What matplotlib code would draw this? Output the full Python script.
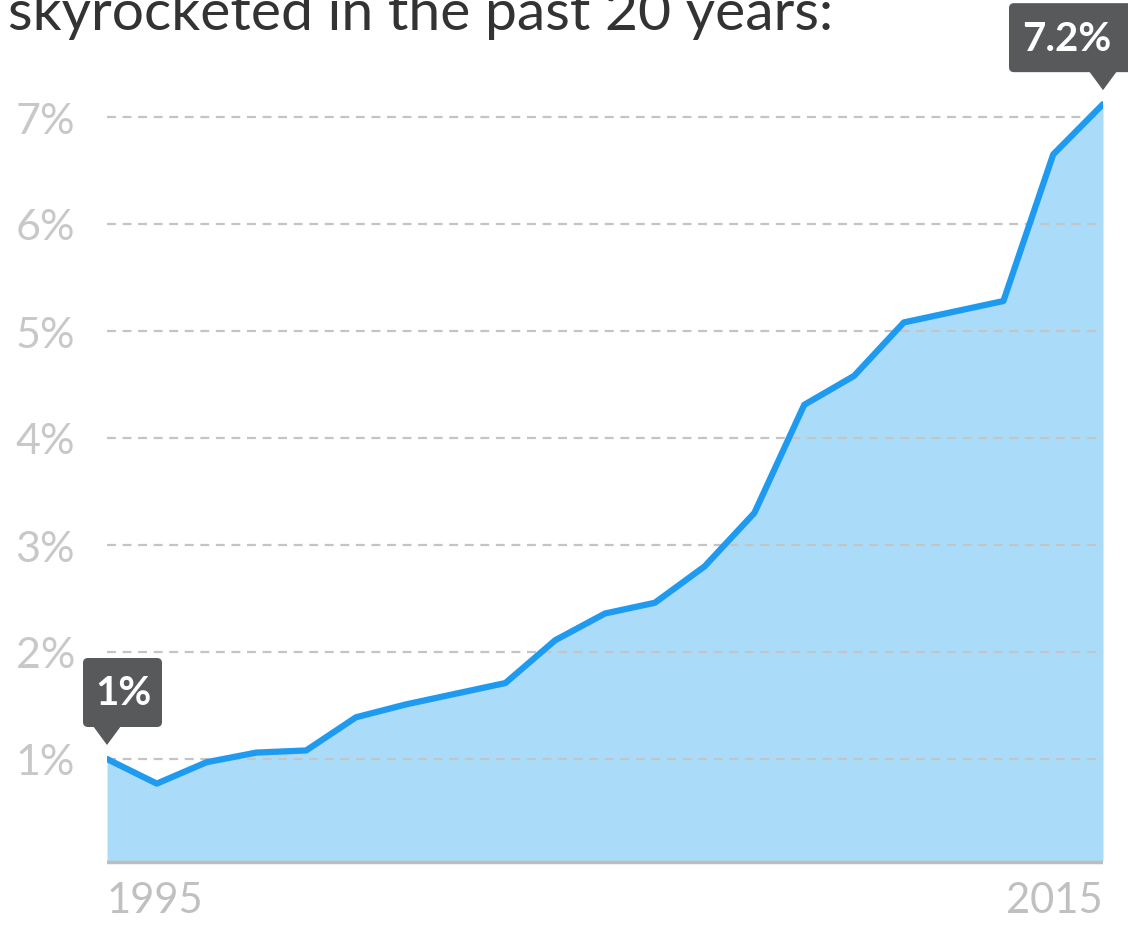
import matplotlib
matplotlib.use("Agg")
import matplotlib.pyplot as plt
import matplotlib.transforms as mtransforms
from matplotlib.patches import FancyBboxPatch, Polygon

plt.rcParams['font.family'] = ['Lato', 'DejaVu Sans']

# data
years = list(range(1995, 2016))
share = [1.00, 0.77, 0.97, 1.06, 1.08, 1.39, 1.51, 1.61, 1.71, 2.11, 2.36,
         2.46, 2.80, 3.30, 4.31, 4.58, 5.08, 5.18, 5.28, 6.65, 7.12]
yticks = [1, 2, 3, 4, 5, 6, 7]
ytick_labels = ["%d%%" % v for v in yticks]
title = "skyrocketed in the past 20 years:"
callouts = [(0, "1%"), (20, "7.2%")]

W, H = 1128, 929
fig = plt.figure(figsize=(W / 100, H / 100), dpi=100)
ax = fig.add_axes([107 / W, 62 / H, 996 / W, 856 / H])
ax.set_xlim(1995, 2015)
ax.set_ylim(0, 8)

ax.fill_between(years, share, 0.05, color='#aadcf9', lw=0, zorder=1)
ax.plot(years, share, color='#1e9bf0', lw=4.5, solid_capstyle='round', zorder=3)
ax.axhline(0.04, color='#bdbdbd', lw=2.5, zorder=2)

for v in yticks:
    ax.axhline(v, color='#c4c4c4', lw=1.6, ls=(0, (4, 3)), zorder=2)

ax.set_yticks(yticks)
ax.set_yticklabels(ytick_labels)
ax.tick_params(axis='y', length=0, pad=23, labelsize=31, labelcolor='#c8c8c8')
ax.set_xticks([])
for s in ax.spines.values():
    s.set_visible(False)

ax.text(1995, -0.14, "1995", ha='left', va='top', fontsize=30, color='#c0c0c0')
ax.text(2015, -0.14, "2015", ha='right', va='top', fontsize=30, color='#c0c0c0')

fig.text(8 / W, (H - 30) / H, title, ha='left', va='baseline', fontsize=41,
         color='#333333')

# callout boxes with pointer, sized in pixels around the point
boxes = {0: (-24, 55, 16), 20: (-94, 40, -36)}
for i, txt in callouts:
    x0, x1, tx = boxes[i]
    tr = fig.dpi_scale_trans + mtransforms.ScaledTranslation(years[i], share[i], ax.transData)
    box = FancyBboxPatch((x0 / 100, 32 / 100), (x1 - x0) / 100, 69 / 100,
                         boxstyle='round,pad=0,rounding_size=0.05',
                         fc='#58595b', ec='none', transform=tr, clip_on=False, zorder=5)
    ax.add_patch(box)
    tri = Polygon([(-0.14, 0.33), (0.14, 0.33), (0, 0.14)], closed=True,
                  fc='#58595b', ec='none', transform=tr, clip_on=False, zorder=5)
    ax.add_patch(tri)
    ax.text(tx / 100, 66 / 100, txt, transform=tr, ha='center', va='center',
            fontsize=29, fontweight='bold', color='white', zorder=6)

fig.savefig("out.png", dpi=100)
